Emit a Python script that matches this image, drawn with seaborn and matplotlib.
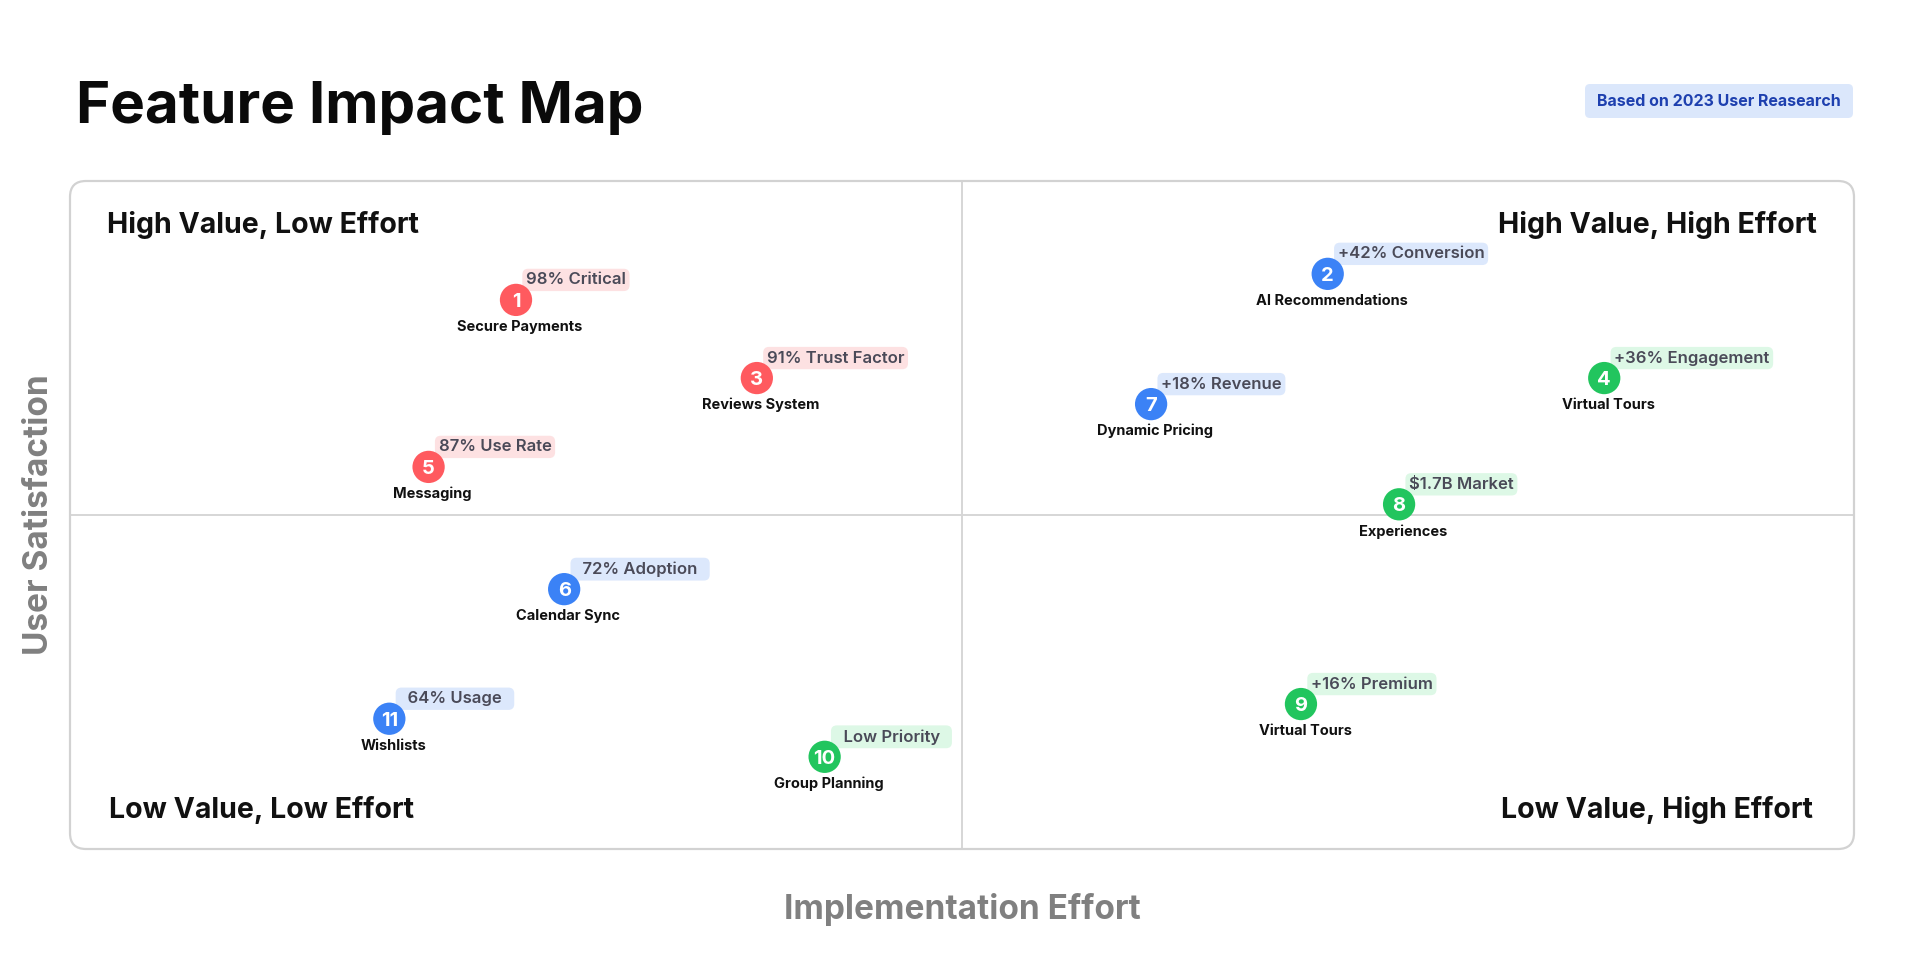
import numpy as np
import pandas as pd
import matplotlib
matplotlib.use("Agg")
import matplotlib.pyplot as plt
from matplotlib.patches import FancyBboxPatch
from matplotlib.transforms import IdentityTransform
import seaborn as sns

# feature data
features = ["Secure Payments", "AI Recommendations", "Reviews System", "Virtual Tours",
            "Messaging", "Calendar Sync", "Dynamic Pricing", "Experiences",
            "Virtual Tours", "Group Planning", "Wishlists"]
effort = [25.0, 70.5, 38.5, 86.0, 20.1, 27.7, 60.6, 74.5, 69.0, 42.3, 17.9]
satisfaction = [82.2, 86.1, 70.5, 70.5, 57.2, 38.9, 66.6, 51.6, 21.7, 13.8, 19.5]
category = ["Core", "Smart", "Core", "Growth", "Core", "Smart", "Smart", "Growth",
            "Growth", "Growth", "Smart"]
tags = ["98% Critical", "+42% Conversion", "91% Trust Factor", "+36% Engagement",
        "87% Use Rate", "72% Adoption", "+18% Revenue", "$1.7B Market",
        "+16% Premium", "Low Priority", "64% Usage"]

quadrants = ["High Value, Low Effort", "High Value, High Effort",
             "Low Value, Low Effort", "Low Value, High Effort"]

dot_colors = {"Core": "#FF5A5F", "Smart": "#3B82F6", "Growth": "#22C55E"}
tag_colors = {"Core": "#FDE1E2", "Smart": "#DCE8FC", "Growth": "#DDF8E6"}

df = pd.DataFrame({"feature": features, "effort": effort,
                   "satisfaction": satisfaction, "category": category, "tag": tags})
df["num"] = np.arange(1, len(df) + 1)

sns.set_theme(style="white")
plt.rcParams["font.family"] = ["Inter", "DejaVu Sans"]

W, H = 1920, 965
fig = plt.figure(figsize=(W / 100, H / 100), dpi=100)
fig.patch.set_facecolor("white")

# plot box in pixels
L, R, T, B = 70, 1854, 181, 849
ax = fig.add_axes([L / W, (H - B) / H, (R - L) / W, (B - T) / H])
ax.set_xlim(0, 100)
ax.set_ylim(0, 100)
ax.axis("off")

# rounded outer frame
frame = FancyBboxPatch((L, H - B), R - L, B - T, boxstyle="round,pad=0,rounding_size=16",
                       transform=IdentityTransform(), facecolor="none",
                       edgecolor="#D2D2D2", linewidth=1.6)
fig.add_artist(frame)

# quadrant dividers
ax.axvline(50, color="#D6D6D6", lw=1.4, zorder=1)
ax.axhline(50, color="#D6D6D6", lw=1.4, zorder=1)

sns.scatterplot(data=df, x="effort", y="satisfaction", hue="category",
                palette=dot_colors, s=540, linewidth=0, legend=False, ax=ax, zorder=3)

for _, r in df.iterrows():
    x, y = r["effort"], r["satisfaction"]
    ax.text(x, y, str(r["num"]), ha="center", va="center_baseline", color="white",
            fontsize=14.5, fontweight="bold", zorder=4)
    ax.annotate(r["feature"], (x, y), xytext=(4, -27), textcoords="offset pixels",
                ha="center", va="center", fontsize=10.5, fontweight="bold",
                color="#111111", zorder=4)
    label = r["tag"]
    if x < 50 and y < 50:
        label = "  " + label + "  "
    ax.annotate(label, (x, y), xytext=(10, 20), textcoords="offset pixels",
                ha="left", va="center", fontsize=12, fontweight="semibold",
                color="#4A4A58", zorder=2,
                bbox=dict(boxstyle="round,pad=0.22,rounding_size=0.35",
                          facecolor=tag_colors[r["category"]], edgecolor="none"))

# quadrant titles
qkw = dict(fontsize=20.5, fontweight="bold", color="#111111", va="baseline",
           transform=ax.transAxes)
ax.text(0.021, 0.922, quadrants[0], ha="left", **qkw)
ax.text(0.979, 0.922, quadrants[1], ha="right", **qkw)
ax.text(0.022, 0.046, quadrants[2], ha="left", **qkw)
ax.text(0.977, 0.046, quadrants[3], ha="right", **qkw)

# title and badge
fig.text(76 / W, 1 - 123 / H, "Feature Impact Map", fontsize=42, fontweight="bold",
         color="#0A0A0A", ha="left", va="baseline")
badge = FancyBboxPatch((1585, H - 118), 268, 34, boxstyle="round,pad=0,rounding_size=5",
                       transform=IdentityTransform(), facecolor="#DBE7FB", edgecolor="none")
fig.add_artist(badge)
fig.text(1719 / W, 1 - 101 / H, "Based on 2023 User Reasearch", fontsize=11.5,
         fontweight="bold", color="#1E40AF", ha="center", va="center")

# axis labels
fig.text(39 / W, 1 - 515 / H, "User Satisfaction", rotation=90, fontsize=24,
         fontweight="bold", color="#808080", ha="center", va="center")
fig.text(962 / W, 1 - 909 / H, "Implementation Effort", fontsize=24,
         fontweight="bold", color="#808080", ha="center", va="center")

fig.savefig("out.png", dpi=100, facecolor="white")
